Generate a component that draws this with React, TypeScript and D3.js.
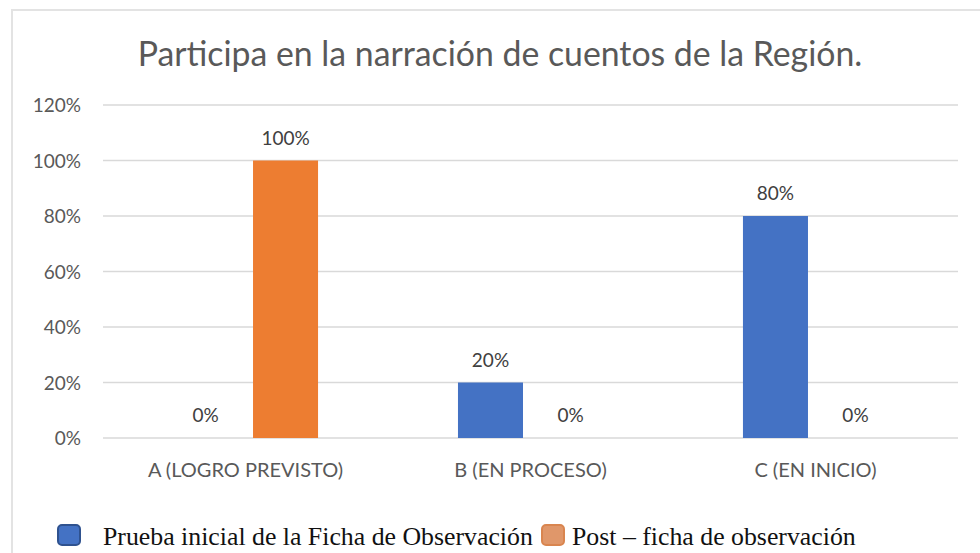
import { useEffect, useRef } from 'react';
import * as d3 from 'd3';

const categories = ['A (LOGRO PREVISTO)', 'B (EN PROCESO)', 'C (EN INICIO)'];
const seriesNames = ['Prueba inicial de la Ficha de Observación', 'Post – ficha de observación'];
const pruebaInicial = [0, 0.2, 0.8];
const postFicha = [1, 0, 0];
const yTicks = [0, 0.2, 0.4, 0.6, 0.8, 1, 1.2];
const titleText = 'Participa en la narración de cuentos de la Región.';

const barColors = ['#4472C4', '#ED7D31'];
const legendFill = ['#4472C4', '#E0976A'];
const legendStroke = ['#2F528F', '#D9854F'];

export default function App() {
  const rootRef = useRef<SVGSVGElement | null>(null);

  useEffect(() => {
    const svgEl = rootRef.current;
    if (!svgEl) return undefined;
    const width = 980;
    const height = 553;
    const margin = { top: 105, right: 22, bottom: 115, left: 103 };
    const font = 'Lato, "Open Sans", sans-serif';

    const svg = d3.select(svgEl);
    svg.selectAll('*').remove();

    // outer frame
    svg.append('rect')
      .attr('x', 12).attr('y', 10)
      .attr('width', width).attr('height', height)
      .attr('fill', '#fff')
      .attr('stroke', '#e3e3e3')
      .attr('stroke-width', 2);

    svg.append('text')
      .attr('x', 500).attr('y', 66)
      .attr('text-anchor', 'middle')
      .attr('font-family', font)
      .attr('font-size', '33.8px')
      .attr('fill', '#595959')
      .text(titleText);

    const x0 = d3.scaleBand()
      .domain(categories)
      .range([margin.left, width - margin.right])
      .paddingInner(0.491)
      .paddingOuter(0.2456);
    const x1 = d3.scaleBand()
      .domain(['0', '1'])
      .range([0, x0.bandwidth()])
      .paddingInner(0.1875);
    const y = d3.scaleLinear().domain([0, 1.2]).range([438, margin.top]);
    const fmt = d3.format('.0%');

    const g = svg.append('g');
    g.append('g')
      .selectAll('line')
      .data(yTicks)
      .join('line')
      .attr('x1', margin.left)
      .attr('x2', width - margin.right)
      .attr('y1', d => y(d))
      .attr('y2', d => y(d))
      .attr('stroke', '#d9d9d9')
      .attr('stroke-width', 1.5);

    g.append('g')
      .selectAll('text')
      .data(yTicks)
      .join('text')
      .attr('x', 81)
      .attr('y', d => y(d) + 7)
      .attr('text-anchor', 'end')
      .attr('font-family', font)
      .attr('font-size', '19px')
      .attr('fill', '#595959')
      .text(d => fmt(d));

    const series = [pruebaInicial, postFicha];
    series.forEach((vals, si) => {
      const grp = g.append('g');
      grp.selectAll('rect')
        .data(vals)
        .join('rect')
        .attr('x', (_, i) => (x0(categories[i]) ?? 0) + (x1(String(si)) ?? 0))
        .attr('width', x1.bandwidth())
        .attr('y', d => y(d))
        .attr('height', d => y(0) - y(d))
        .attr('fill', barColors[si]);
      grp.selectAll('text')
        .data(vals)
        .join('text')
        .attr('x', (_, i) => (x0(categories[i]) ?? 0) + (x1(String(si)) ?? 0) + x1.bandwidth() / 2)
        .attr('y', d => y(d) - 16)
        .attr('text-anchor', 'middle')
        .attr('font-family', font)
        .attr('font-size', '19px')
        .attr('fill', '#404040')
        .text(d => fmt(d));
    });

    g.append('g')
      .selectAll('text')
      .data(categories)
      .join('text')
      .attr('x', d => (x0(d) ?? 0) + x0.bandwidth() / 2)
      .attr('y', 477)
      .attr('text-anchor', 'middle')
      .attr('font-family', font)
      .attr('font-size', '20px')
      .attr('fill', '#595959')
      .text(d => d);

    // legend
    const legendX = [58, 542];
    const legendTextX = [103, 572];
    const legend = svg.append('g');
    seriesNames.forEach((name, i) => {
      legend.append('rect')
        .attr('x', legendX[i]).attr('y', 525)
        .attr('width', 22).attr('height', 20)
        .attr('rx', 4)
        .attr('fill', legendFill[i])
        .attr('stroke', legendStroke[i])
        .attr('stroke-width', 2);
      legend.append('text')
        .attr('x', legendTextX[i]).attr('y', 545)
        .attr('font-family', '"Liberation Serif", "Times New Roman", serif')
        .attr('font-size', '25.8px')
        .attr('fill', '#111')
        .text(name);
    });

    return () => {
      svg.selectAll('*').remove();
    };
  }, []);

  return (
    <svg
      ref={rootRef}
      width={980}
      height={553}
      style={{ position: 'absolute', left: 0, top: 0, background: '#fff' }}
    />
  );
}
